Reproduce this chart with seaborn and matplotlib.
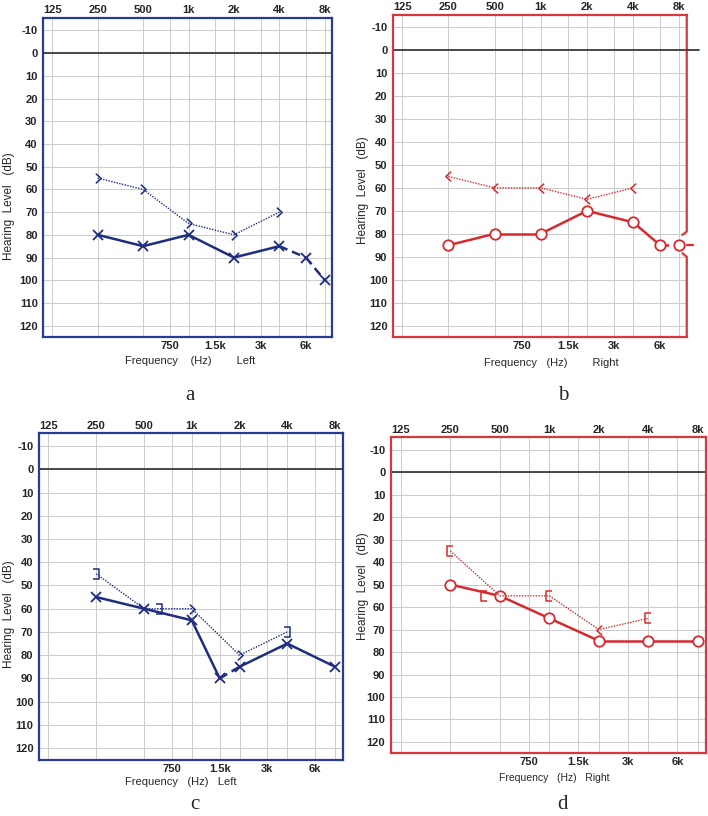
import matplotlib
matplotlib.use("Agg")
import matplotlib.pyplot as plt
from matplotlib.path import Path
from matplotlib.markers import MarkerStyle
from matplotlib.transforms import Affine2D
from matplotlib.ticker import FixedLocator, FixedFormatter
import seaborn as sns

sns.set_style("white")
plt.rcParams["font.family"] = ["Liberation Sans", "DejaVu Sans"]
plt.rcParams["axes.unicode_minus"] = False

# axis labels
top_freqs = [125, 250, 500, 1000, 2000, 4000, 8000]
top_labels = ["125", "250", "500", "1k", "2k", "4k", "8k"]
bot_freqs = [750, 1500, 3000, 6000]
bot_labels = ["750", "1.5k", "3k", "6k"]
db_ticks = [-10, 0, 10, 20, 30, 40, 50, 60, 70, 80, 90, 100, 110, 120]

# a - left ear
a_air_f = [250, 500, 1000, 2000, 4000, 6000, 8000]
a_air_db = [80, 85, 80, 90, 85, 90, 100]
a_air_dash = [False, False, False, False, True, True]
a_bone_f = [250, 500, 1000, 2000, 4000]
a_bone_db = [55, 60, 75, 80, 70]
a_bone_sym = [">", ">", ">", ">", ">"]

# b - right ear
b_air_f = [250, 500, 1000, 2000, 4000, 6000, 8000]
b_air_db = [85, 80, 80, 70, 75, 85, 85]
b_air_dash = [False, False, False, False, False, True]
b_bone_f = [250, 500, 1000, 2000, 4000]
b_bone_db = [55, 60, 60, 65, 60]
b_bone_sym = ["<", "<", "<", "<", "<"]

# c - left ear
c_air_f = [250, 500, 1000, 1500, 2000, 4000, 8000]
c_air_db = [55, 60, 65, 90, 85, 75, 85]
c_air_dash = [False, False, False, True, False, False]
c_bone_f = [250, 500, 1000, 2000, 4000]
c_bone_db = [45, 60, 60, 80, 70]
c_bone_sym = ["]", "]", ">", ">", "]"]

# d - right ear
d_air_f = [250, 500, 1000, 2000, 4000, 8000]
d_air_db = [50, 55, 65, 75, 75, 75]
d_air_dash = [False, False, False, False, False]
d_bone_f = [250, 500, 1000, 2000, 4000]
d_bone_db = [35, 55, 55, 70, 65]
d_bone_sym = ["[", "[", "[", "<", "["]

NAVY = "#1f2c80"
NAVY_FRAME = "#2a3a96"
RED = "#d62a2e"
RED_FRAME = "#d6383d"

MV, LT = Path.MOVETO, Path.LINETO
SYMBOLS = {
    ">": Path([(-0.55, 1), (0.55, 0), (-0.55, -1)], [MV, LT, LT]),
    "<": Path([(0.55, 1), (-0.55, 0), (0.55, -1)], [MV, LT, LT]),
    "]": Path([(-0.5, 0.8), (0.5, 0.8), (0.5, -0.8), (-0.5, -0.8)], [MV, LT, LT, LT]),
    "[": Path([(0.5, 0.8), (-0.5, 0.8), (-0.5, -0.8), (0.5, -0.8)], [MV, LT, LT, LT]),
}
# masked symbols drawn beside the air point when they would overlap
NUDGE = {("c", 500): 1.5, ("d", 500): -1.6}


def draw_panel(key, ax, air_f, air_db, air_dash, air_marker, bone_f, bone_db,
               bone_sym, color, frame, side):
    ax.set_xscale("log", base=2)

    # air conduction
    for i in range(len(air_f) - 1):
        sns.lineplot(x=air_f[i:i + 2], y=air_db[i:i + 2], ax=ax, color=color,
                     lw=1.8, linestyle=(0, (3.5, 2)) if air_dash[i] else "-",
                     estimator=None, sort=False)
    sns.lineplot(x=air_f, y=air_db, ax=ax, color=color, linestyle="none",
                 marker=air_marker, markersize=7.5, markeredgecolor=color,
                 markerfacecolor="white", markeredgewidth=1.3,
                 estimator=None, sort=False)

    # bone conduction
    sns.lineplot(x=bone_f, y=bone_db, ax=ax, color=color, lw=1.0,
                 linestyle=(0, (1, 1)), estimator=None, sort=False)
    for f, d, s in zip(bone_f, bone_db, bone_sym):
        shift = NUDGE.get((key, f), 0)
        ms = MarkerStyle(SYMBOLS[s], transform=Affine2D().translate(shift, 0))
        sns.lineplot(x=[f], y=[d], ax=ax, linestyle="none", marker=ms,
                     markersize=7, markeredgecolor=color,
                     markerfacecolor="none", markeredgewidth=1.1,
                     estimator=None)

    ax.axhline(0, color="#3a3a3a", lw=1.3, zorder=1)

    ax.set_xlim(125 * 2 ** -0.2, 8000 * 2 ** 0.16)
    ax.set_ylim(125, -15.5)
    ax.xaxis.set_major_locator(FixedLocator(top_freqs))
    ax.xaxis.set_major_formatter(FixedFormatter(top_labels))
    ax.xaxis.set_minor_locator(FixedLocator(bot_freqs))
    ax.xaxis.set_minor_formatter(FixedFormatter(bot_labels))
    ax.set_yticks(db_ticks)
    ax.tick_params(axis="x", which="major", labelbottom=False, labeltop=True,
                   length=0, pad=2, labelsize=8)
    ax.tick_params(axis="x", which="minor", labelbottom=True, labeltop=False,
                   length=0, pad=3, labelsize=8)
    ax.tick_params(axis="y", length=0, pad=4, labelsize=8)
    for lab in ax.get_xticklabels(which="both") + ax.get_yticklabels():
        lab.set_fontweight("bold")
    ax.grid(True, which="both", axis="x", color="#cccccc", lw=0.7)
    ax.grid(True, which="major", axis="y", color="#cccccc", lw=0.7)
    for sp in ax.spines.values():
        sp.set_color(frame)
        sp.set_linewidth(1.6)

    ax.set_ylabel("Hearing  Level   (dB)", fontsize=8.5)
    ax.set_xlabel(side, fontsize=8)


fig = plt.figure(figsize=(7.08, 8.16), dpi=100)
ax_a = fig.add_axes([0.061, 0.587, 0.408, 0.391])
ax_b = fig.add_axes([0.555, 0.587, 0.415, 0.395])
ax_c = fig.add_axes([0.055, 0.069, 0.429, 0.400])
ax_d = fig.add_axes([0.552, 0.077, 0.445, 0.387])

draw_panel("a", ax_a, a_air_f, a_air_db, a_air_dash, "x", a_bone_f, a_bone_db,
           a_bone_sym, NAVY, NAVY_FRAME, "Frequency    (Hz)        Left")
draw_panel("b", ax_b, b_air_f, b_air_db, b_air_dash, "o", b_bone_f, b_bone_db,
           b_bone_sym, RED, RED_FRAME, "Frequency   (Hz)        Right")
draw_panel("c", ax_c, c_air_f, c_air_db, c_air_dash, "x", c_bone_f, c_bone_db,
           c_bone_sym, NAVY, NAVY_FRAME, "Frequency   (Hz)   Left")
draw_panel("d", ax_d, d_air_f, d_air_db, d_air_dash, "o", d_bone_f, d_bone_db,
           d_bone_sym, RED, RED_FRAME, "Frequency   (Hz)   Right")
ax_d.xaxis.label.set_fontsize(7.5)

ax_a.yaxis.set_label_coords(-0.097, 0.41)
ax_b.yaxis.set_label_coords(-0.082, 0.455)
ax_c.yaxis.set_label_coords(-0.079, 0.445)
ax_d.yaxis.set_label_coords(-0.070, 0.53)
ax_a.xaxis.set_label_coords(0.51, -0.058)
ax_b.xaxis.set_label_coords(0.54, -0.064)
ax_c.xaxis.set_label_coords(0.467, -0.054)
ax_d.xaxis.set_label_coords(0.52, -0.062)

# panel b: right border is broken where the last points run past it
ax_b.spines["right"].set_visible(False)
tr = ax_b.get_yaxis_transform()
ax_b.plot([1, 1, 0.985], [-15.5, 79, 80.5], color=RED_FRAME, lw=1.6,
          transform=tr, clip_on=False)
ax_b.plot([0.985, 1, 1], [88.5, 90, 125], color=RED_FRAME, lw=1.6,
          transform=tr, clip_on=False)
ax_b.plot([1.0, 1.02], [85, 85], color=RED, lw=1.6, transform=tr, clip_on=False)
ax_b.plot([1.0, 1.04], [0, 0], color="#3a3a3a", lw=1.3, transform=tr,
          clip_on=False)

for letter, x, y in [("a", 0.268, 0.510), ("b", 0.795, 0.510),
                     ("c", 0.275, 0.009), ("d", 0.795, 0.009)]:
    fig.text(x, y, letter, fontsize=15, family="Liberation Serif",
             ha="center", va="baseline")

fig.savefig("out.png", dpi=100)
